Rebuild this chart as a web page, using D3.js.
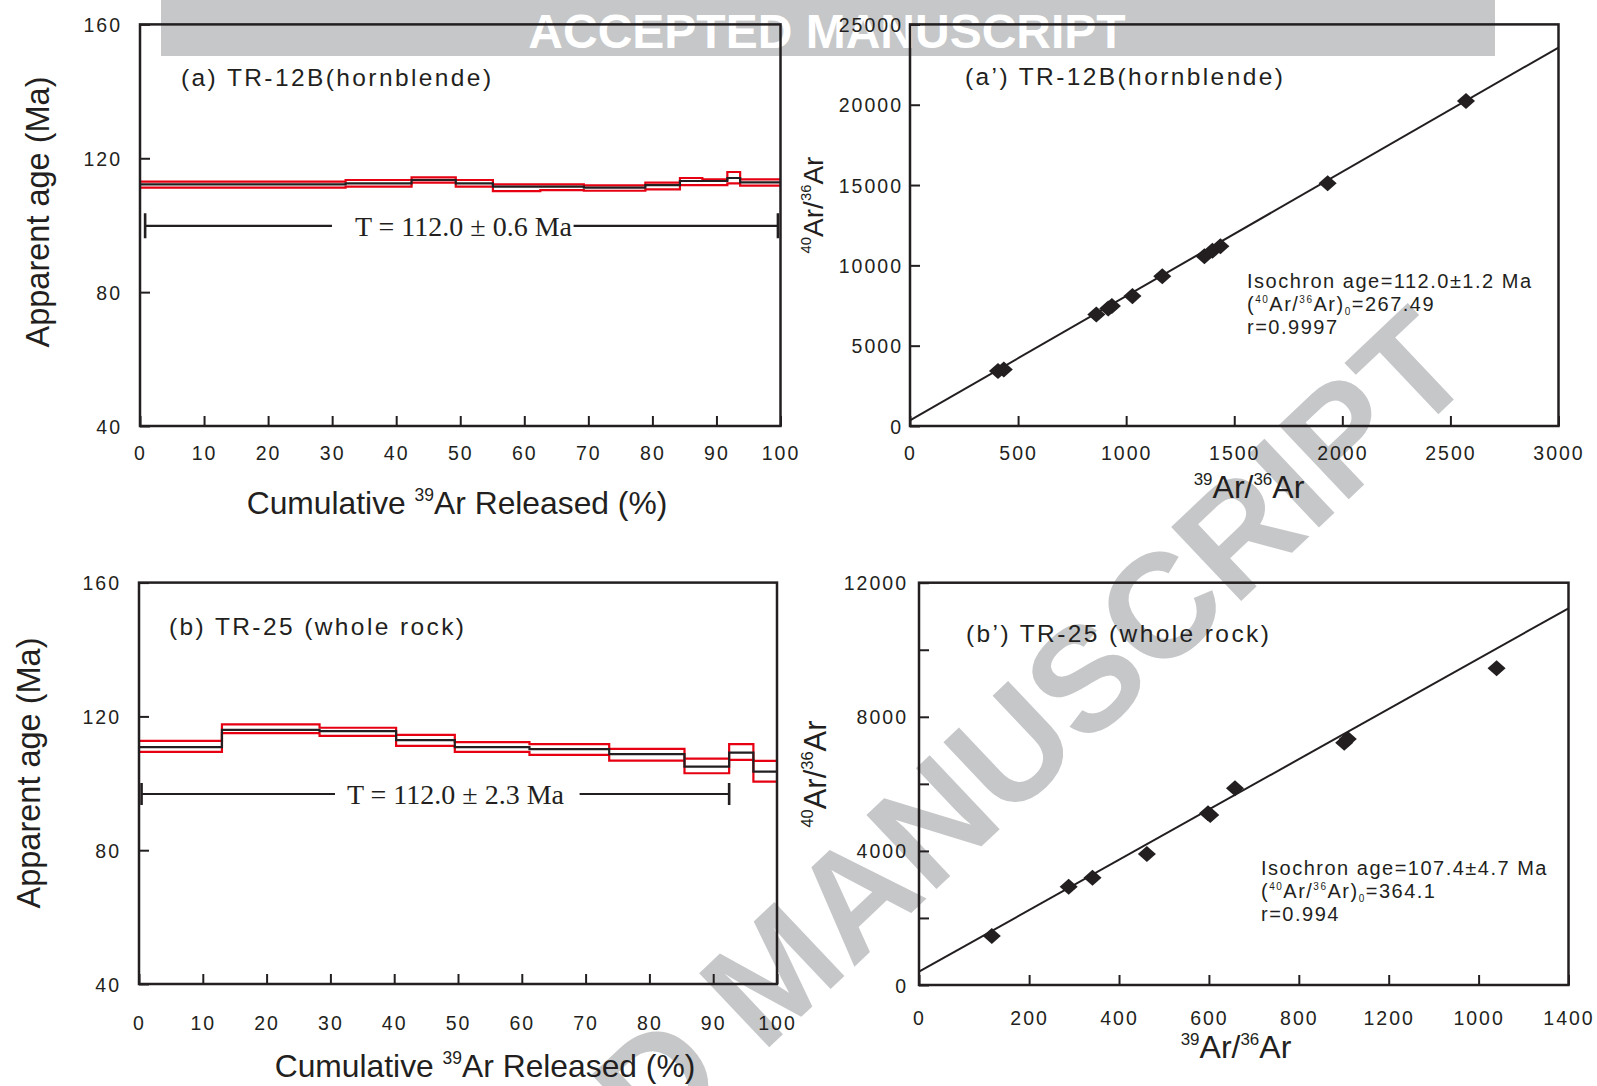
<!DOCTYPE html>
<html>
<head>
<script src="https://cdnjs.cloudflare.com/ajax/libs/d3/7.8.5/d3.min.js"></script>
<style>
  body { margin: 0; background: #fff; }
  svg { display: block; font-family: "Liberation Sans", Arial, Helvetica, sans-serif; }
  .tick text { font-size: 19.5px; letter-spacing: 2px; fill: #231f20; font-family: "Liberation Sans", Arial, sans-serif; }
  .tick line { stroke-width: 2px; }
  .ptitle { font-size: 24.5px; letter-spacing: 2.4px; fill: #231f20; }
  .iso { font-size: 20px; letter-spacing: 1.5px; fill: #231f20; }
  .axt { fill: #231f20; }
  .plat { font-family: "Liberation Serif", "Times New Roman", serif; font-size: 28px; fill: #231f20; }
  .wm { font-weight: bold; fill: #c6c7c9; }
</style>
</head>
<body>
<svg id="fig" width="1597" height="1086"></svg>
<script>
// ---------- data ----------
// (a) TR-12B hornblende, age spectrum
const edgesA = [0, 32.1, 42.4, 49.3, 55.1, 62.5, 69.3, 78.9, 84.3, 87.8, 91.7, 93.7, 100];
const ageA   = [112.2, 112.5, 113.5, 112.5, 111.5, 111.5, 111.2, 112.0, 113.2, 113.2, 114.1, 112.8];
const ageHiA = [113.0, 113.5, 114.3, 113.5, 112.2, 112.2, 111.9, 112.7, 114.1, 113.7, 115.9, 113.7];
const ageLoA = [111.2, 111.5, 112.7, 111.5, 110.2, 110.5, 110.3, 110.7, 112.0, 112.0, 112.5, 111.8];
const plateauSpanA = [0.8, 99.6];
const plateauYA = 99.8;
const plateauLabelA = "T = 112.0 \u00b1 0.6 Ma";

// (b) TR-25 whole rock, age spectrum
const edgesB = [0, 13.0, 28.3, 40.3, 49.5, 61.2, 73.7, 85.5, 92.5, 96.3, 100];
const ageB   = [110.8, 116.0, 115.6, 112.9, 110.8, 110.2, 108.7, 105.0, 109.2, 103.5];
const ageHiB = [112.7, 117.6, 116.6, 114.5, 112.3, 111.7, 110.3, 107.4, 111.7, 106.7];
const ageLoB = [109.4, 115.0, 114.2, 111.2, 109.4, 108.5, 106.8, 103.0, 107.0, 100.5];
const plateauSpanB = [0.4, 92.5];
const plateauYB = 96.8;
const plateauLabelB = "T = 112.0 \u00b1 2.3 Ma";

const pctTicks = [0, 10, 20, 30, 40, 50, 60, 70, 80, 90, 100];
const ageTicks = [40, 80, 120, 160];

// (a') isochron
const isoXA = [407, 434, 862, 917, 934, 1029, 1167, 1362, 1399, 1436, 1932, 2572];
const isoYA = [3420, 3524, 6944, 7318, 7463, 8085, 9328, 10572, 10904, 11194, 15112, 20232];
const isoLineA = [[0, 350], [3000, 23560]];
const xTicksA2 = [0, 500, 1000, 1500, 2000, 2500, 3000];
const yTicksA2 = [0, 5000, 10000, 15000, 20000, 25000];
const isoTextA = ["Isochron age=112.0\u00b11.2 Ma", "267.49", "r=0.9997"];

// (b') isochron (tick labels as printed in the original)
const isoXB = [117, 288, 341, 462, 598, 603, 658, 901, 909, 1240];
const isoYB = [1462, 2932, 3201, 3908, 5121, 5071, 5867, 7228, 7338, 9446];
const isoLineB = [[-45, 397], [1400, 11237]];
const xTickValsB = [-45, 200, 400, 600, 800, 1000, 1200, 1400];
const xTickLabelsB = ["0", "200", "400", "600", "800", "1200", "1000", "1400"];
const yTicksB2 = [0, 2000, 4000, 6000, 8000, 10000, 12000];
const yLabelsB2 = [0, 4000, 8000, 12000];
const isoTextB = ["Isochron age=107.4\u00b14.7 Ma", "364.1", "r=0.994"];

// ---------- drawing ----------
const INK = "#231f20", RED = "#e60012", GREY = "#c6c7c9";
const svg = d3.select("#fig");

// watermark banner + diagonal text (behind the chart)
svg.append("rect").attr("x", 161).attr("y", 0).attr("width", 1334).attr("height", 56).attr("fill", GREY);
svg.append("text").attr("x", 827).attr("y", 48).attr("text-anchor", "middle")
  .attr("font-size", 48).attr("font-weight", "bold").attr("fill", "#fff").text("ACCEPTED MANUSCRIPT");
svg.append("text").attr("class", "wm").attr("font-size", 148).attr("text-anchor", "end")
  .attr("transform", "translate(1479,376) rotate(-43.4)").text("ACCEPTED MANUSCRIPT");

function rich(sel, parts, size, supRatio) {
  let shift = 0;
  parts.forEach(([t, k]) => {
    const target = k === "sup" ? -size * 0.42 : k === "sub" ? size * 0.22 : 0;
    sel.append("tspan").attr("dy", target - shift)
      .attr("font-size", k === "n" ? size : size * supRatio).text(t);
    shift = target;
  });
}

function box(g, b) {
  g.append("rect").attr("x", b.x0).attr("y", b.y0).attr("width", b.x1 - b.x0).attr("height", b.y1 - b.y0)
    .attr("fill", "none").attr("stroke", INK).attr("stroke-width", 2.5);
}

function axes(g, b, x, y, xVals, xFmt, yVals, yFmt) {
  const xa = g.append("g").attr("transform", `translate(0,${b.y1})`).style("color", INK)
    .call(d3.axisBottom(x).tickValues(xVals).tickFormat(xFmt).tickSize(-10));
  xa.select(".domain").remove();
  xa.selectAll("text").attr("y", b.xLab - b.y1).attr("dy", null);
  const ya = g.append("g").attr("transform", `translate(${b.x0},0)`).style("color", INK)
    .call(d3.axisLeft(y).tickValues(yVals).tickFormat(yFmt).tickSize(-10));
  ya.select(".domain").remove();
  ya.selectAll("text").attr("x", b.yLab - b.x0).attr("dy", "0.36em");
}

function spectrum(b, edges, age, hi, lo, span, yT, label, title) {
  const g = svg.append("g");
  const x = d3.scaleLinear().domain([0, 100]).range([b.x0, b.x1]);
  const y = d3.scaleLinear().domain([40, 160]).range([b.y1, b.y0]);
  axes(g, b, x, y, pctTicks, d3.format("d"), ageTicks, d3.format("d"));

  const step = vals => d3.line().x(d => x(d[0])).y(d => y(d[1])).curve(d3.curveStepAfter)(
    edges.map((e, i) => [e, vals[Math.min(i, vals.length - 1)]]));
  [hi, lo].forEach(v => g.append("path").attr("d", step(v)).attr("fill", "none")
    .attr("stroke", RED).attr("stroke-width", 2.2));
  g.append("path").attr("d", step(age)).attr("fill", "none").attr("stroke", INK).attr("stroke-width", 2.2);

  g.append("text").attr("class", "ptitle").attr("x", b.tx).attr("y", b.ty).text(title);
  box(g, b);

  // plateau bar
  const py = y(yT);
  const t = g.append("text").attr("class", "plat").attr("x", b.platX).attr("y", py + 10)
    .attr("text-anchor", "middle").text(label);
  const bb = t.node().getBBox();
  g.append("path").attr("fill", "none").attr("stroke", INK).attr("stroke-width", 2.2)
    .attr("d", `M${x(span[0])},${py}H${bb.x - b.gap[0]}M${bb.x + bb.width + b.gap[1]},${py}H${x(span[1])}`);
  g.append("path").attr("fill", "none").attr("stroke", INK).attr("stroke-width", 2.6)
    .attr("d", `M${x(span[0])},${py - b.cap}V${py + b.cap}M${x(span[1])},${py - b.cap}V${py + b.cap}`);

  const xt = g.append("text").attr("class", "axt").attr("x", b.xtX).attr("y", b.xtY).attr("text-anchor", "middle");
  rich(xt, [["Cumulative ", "n"], ["39", "sup"], ["Ar Released (%)", "n"]], 31.8, 0.55);
  g.append("text").attr("class", "axt").attr("font-size", 32.5).attr("text-anchor", "middle")
    .attr("transform", `translate(${b.ytX},${b.ytY}) rotate(-90)`).text("Apparent age (Ma)");
}

function isochron(b, xDom, yDom, xs, ys, line, xVals, xFmt, yVals, yFmt, txt, title) {
  const g = svg.append("g");
  const x = d3.scaleLinear().domain(xDom).range([b.x0, b.x1]);
  const y = d3.scaleLinear().domain(yDom).range([b.y1, b.y0]);
  axes(g, b, x, y, xVals, xFmt, yVals, yFmt);

  g.append("path").attr("d", d3.line().x(d => x(d[0])).y(d => y(d[1]))(line))
    .attr("stroke", INK).attr("stroke-width", 2).attr("fill", "none");

  const diamond = { draw(ctx, size) {
    const r = Math.sqrt(size / 2), w = r * 1.06, h = r * 0.94;
    ctx.moveTo(0, -h); ctx.lineTo(w, 0); ctx.lineTo(0, h); ctx.lineTo(-w, 0); ctx.closePath();
  } };
  g.selectAll("path.pt").data(xs.map((v, i) => [v, ys[i]])).join("path").attr("class", "pt")
    .attr("transform", d => `translate(${x(d[0])},${y(d[1])})`)
    .attr("d", d3.symbol(diamond, 145)).attr("fill", INK);

  g.append("text").attr("class", "ptitle").attr("x", b.tx).attr("y", b.ty).text(title);
  const t1 = g.append("text").attr("class", "iso").attr("x", b.ix).attr("y", b.iy);
  t1.text(txt[0]);
  const t2 = g.append("text").attr("class", "iso").attr("x", b.ix).attr("y", b.iy + 23);
  rich(t2, [["(", "n"], ["40", "sup"], ["Ar/", "n"], ["36", "sup"], ["Ar)", "n"], ["0", "sub"], ["=" + txt[1], "n"]], 20, 0.5);
  g.append("text").attr("class", "iso").attr("x", b.ix).attr("y", b.iy + 46).text(txt[2]);
  box(g, b);

  const xt = g.append("text").attr("class", "axt").attr("x", b.xtX).attr("y", b.xtY).attr("text-anchor", "middle");
  rich(xt, [["39", "sup"], ["Ar/", "n"], ["36", "sup"], ["Ar", "n"]], 32, 0.53);
  const yt = g.append("text").attr("class", "axt").attr("text-anchor", "middle")
    .attr("transform", `translate(${b.ytX},${b.ytY}) rotate(-90)`);
  rich(yt, [["40", "sup"], ["Ar/", "n"], ["36", "sup"], ["Ar", "n"]], b.ytSize, 0.53);
}

spectrum({ x0: 140, x1: 780.5, y0: 24.4, y1: 426, xLab: 460, yLab: 122, platX: 463.5, gap: [23, 1], cap: 12.5,
           tx: 181, ty: 86, xtX: 457, xtY: 514, ytX: 49, ytY: 212 },
  edgesA, ageA, ageHiA, ageLoA, plateauSpanA, plateauYA, plateauLabelA, "(a) TR-12B(hornblende)");

spectrum({ x0: 139, x1: 777, y0: 582.6, y1: 984, xLab: 1030, yLab: 121, platX: 455.5, gap: [12, 15], cap: 11,
           tx: 169, ty: 635, xtX: 485, xtY: 1077, ytX: 40, ytY: 773 },
  edgesB, ageB, ageHiB, ageLoB, plateauSpanB, plateauYB, plateauLabelB, "(b) TR-25 (whole rock)");

isochron({ x0: 910, x1: 1558.5, y0: 24.4, y1: 426, xLab: 460, yLab: 903, tx: 965, ty: 85,
           ix: 1247, iy: 288, xtX: 1249, xtY: 498, ytX: 823, ytY: 205, ytSize: 28 },
  [0, 3000], [0, 25000], isoXA, isoYA, isoLineA, xTicksA2, d3.format("d"), yTicksA2, d3.format("d"),
  isoTextA, "(a\u2019) TR-12B(hornblende)");

isochron({ x0: 919, x1: 1568.5, y0: 582.7, y1: 985, xLab: 1025, yLab: 908, tx: 966, ty: 642,
           ix: 1261, iy: 875, xtX: 1236, xtY: 1058, ytX: 826, ytY: 774, ytSize: 31 },
  [-45, 1400], [0, 12000], isoXB, isoYB, isoLineB, xTickValsB, (d, i) => xTickLabelsB[i],
  yTicksB2, d => yLabelsB2.includes(d) ? String(d) : "",
  isoTextB, "(b\u2019) TR-25 (whole rock)");
</script>
</body>
</html>
